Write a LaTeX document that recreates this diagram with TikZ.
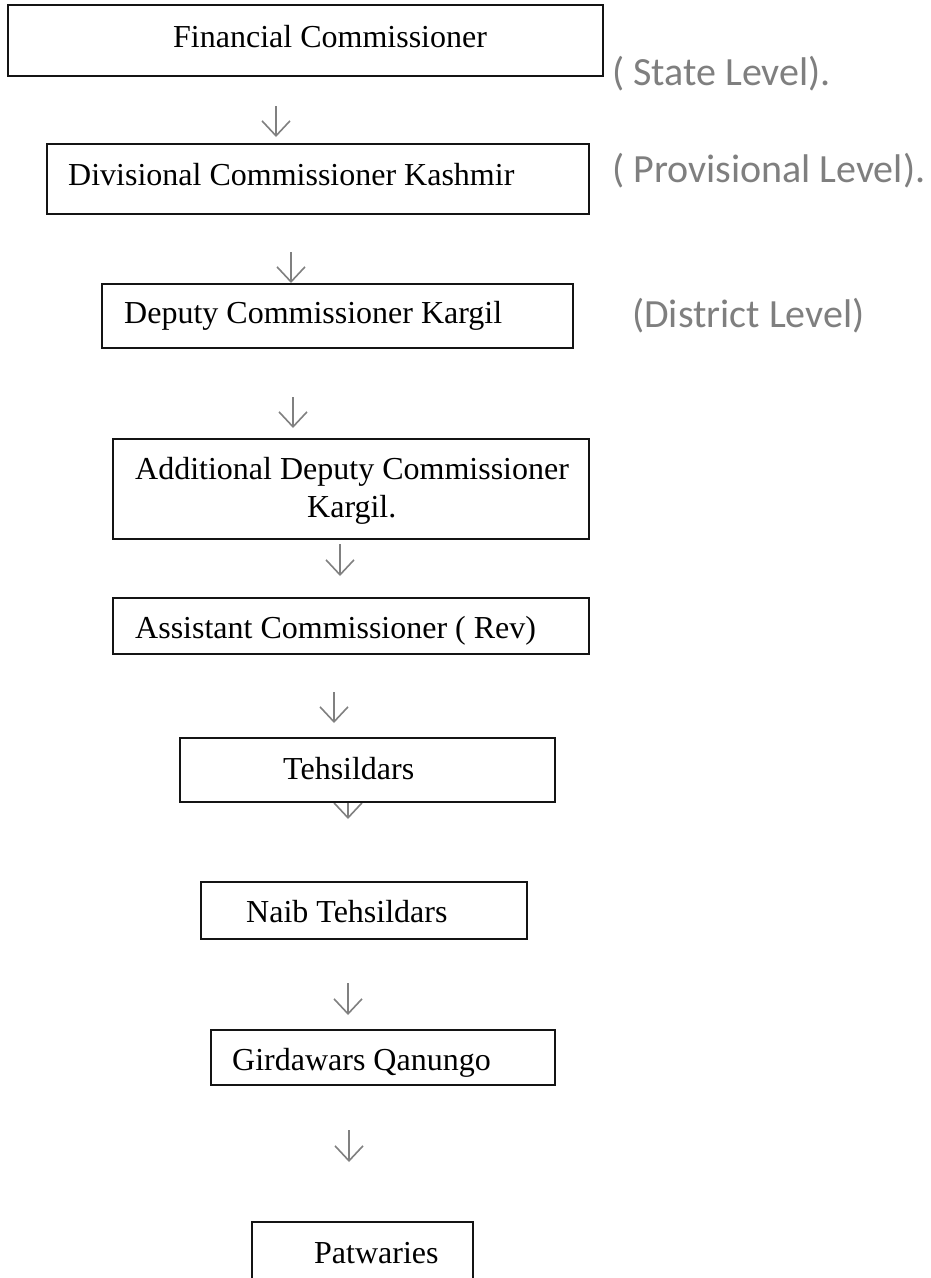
\documentclass[tikz,border=0pt]{standalone}
\usepackage{fontspec}
\setmainfont{Liberation Serif}
\newfontfamily\calibri{Carlito}
\usetikzlibrary{arrows.meta,fit}
\definecolor{lblgray}{HTML}{7F7F7F}
\definecolor{arrgray}{HTML}{808080}
\definecolor{boxline}{HTML}{141414}
\tikzset{
  box/.style={draw=boxline, line width=1.6pt, fill=white, inner sep=0pt},
  txt/.style={inner sep=0pt, font=\fontsize{32}{38}\selectfont, anchor=base west},
  lvl/.style={inner sep=0pt, font=\calibri\fontsize{40}{48}\selectfont, text=lblgray, anchor=base west},
  arr/.style={draw=arrgray, line width=1.6pt, -{Straight Barb[length=15pt,width=28pt]}}
}
\begin{document}
\begin{tikzpicture}[x=1pt,y=-1pt]
\clip (0,0) rectangle (930,1278);
\fill[white] (0,0) rectangle (930,1278);
% arrow end points
\coordinate (a1s) at (276,106);  \coordinate (a1e) at (276,137);
\coordinate (a2s) at (291,252);  \coordinate (a2e) at (291,283);
\coordinate (a3s) at (293,397);  \coordinate (a3e) at (293,428);
\coordinate (a4s) at (340,544);  \coordinate (a4e) at (340,576);
\coordinate (a5s) at (334,692);  \coordinate (a5e) at (334,723);
\coordinate (a6s) at (348,780);  \coordinate (a6e) at (348,819);
\coordinate (a7s) at (348,983);  \coordinate (a7e) at (348,1015);
\coordinate (a8s) at (349,1130); \coordinate (a8e) at (349,1162);
\draw[arr] (a1s) -- (a1e);
\draw[arr] (a2s) -- (a2e);
\draw[arr] (a3s) -- (a3e);
\draw[arr] (a4s) -- (a4e);
\draw[arr] (a5s) -- (a5e);
\draw[arr] (a6s) -- (a6e);
\draw[arr] (a7s) -- (a7e);
\draw[arr] (a8s) -- (a8e);
% boxes
\node[box, fit={(8,5) (603,76)}] (b1) {};
\node[box, fit={(47,144) (589,214)}] (b2) {};
\node[box, fit={(102,284) (573,348)}] (b3) {};
\node[box, fit={(113,439) (589,539)}] (b4) {};
\node[box, fit={(113,598) (589,654)}] (b5) {};
\node[box, fit={(180,738) (555,802)}] (b6) {};
\node[box, fit={(201,882) (527,939)}] (b7) {};
\node[box, fit={(211,1030) (555,1085)}] (b8) {};
\node[box, fit={(252,1222) (473,1300)}] (b9) {};
% box texts
\node[txt] (t1) at (173,47) {Financial Commissioner};
\node[txt] (t2) at (68,185) {Divisional Commissioner Kashmir};
\node[txt] (t3) at (124,323) {Deputy Commissioner Kargil};
\node[txt] (t4a) at (135,479) {Additional Deputy Commissioner};
\node[txt] (t4b) at (307,517) {Kargil.};
\node[txt] (t5) at (135,638) {Assistant Commissioner ( Rev)};
\node[txt] (t6) at (283,779) {Tehsildars};
\node[txt] (t7) at (246,922) {Naib Tehsildars};
\node[txt] (t8) at (232,1070) {Girdawars Qanungo};
\node[txt] (t9) at (314,1263) {Patwaries};
% level labels
\node[lvl] (l1) at (612,85) {( State Level).};
\node[lvl] (l2) at (612,182) {( Provisional Level).};
\node[lvl] (l3) at (632,327) {(District Level)};
\end{tikzpicture}
\end{document}
